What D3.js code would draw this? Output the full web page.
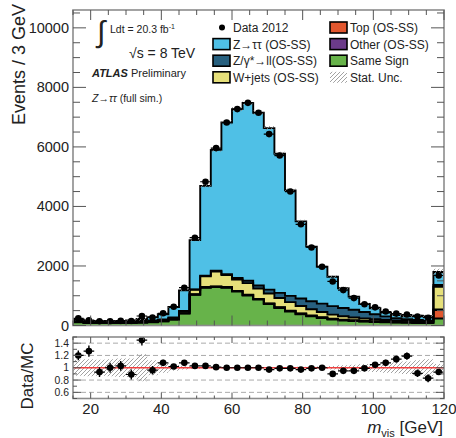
<!DOCTYPE html>
<html>
<head>
<meta charset="utf-8">
<script src="https://cdn.jsdelivr.net/npm/d3@7"></script>
<style>
  body { margin: 0; background: #fff; }
  svg text { font-family: "Liberation Sans", Arial, Helvetica, sans-serif; fill: #222; }
</style>
</head>
<body>
<svg id="chart" width="456" height="438"></svg>
<script>
// ---- m_vis histogram, 3 GeV bins from 15 GeV; the last bin also holds the overflow ----
const binLow = d3.range(15, 120, 3);
const binWidth = 3;

// background and signal components (events per bin)
const sameSign = [110, 80, 85, 80, 80, 85, 95, 110, 140, 200, 400, 1030, 1270, 1290, 1270, 1140, 1010, 870, 720, 590, 470, 380, 310, 250, 200, 170, 150, 130, 120, 105, 95, 90, 85, 80, 235];
const topQuark = [5, 5, 5, 5, 5, 5, 5, 5, 5, 5, 10, 10, 15, 15, 15, 15, 15, 15, 15, 15, 15, 15, 15, 15, 15, 15, 15, 15, 15, 15, 15, 15, 15, 15, 285];
const otherBkg = [5, 5, 5, 5, 5, 5, 5, 5, 5, 5, 5, 10, 10, 10, 10, 10, 10, 10, 10, 10, 10, 10, 10, 10, 10, 10, 10, 10, 10, 10, 10, 10, 10, 10, 20];
const wJets    = [35, 25, 25, 25, 25, 30, 30, 35, 40, 45, 60, 150, 360, 500, 400, 380, 390, 350, 330, 310, 290, 250, 210, 180, 140, 115, 95, 80, 65, 55, 45, 40, 35, 30, 760];
const zll      = [15, 10, 10, 10, 10, 10, 15, 15, 15, 15, 15, 15, 20, 25, 30, 50, 80, 100, 130, 170, 210, 250, 270, 280, 285, 280, 260, 220, 170, 120, 80, 55, 40, 30, 60];
const ztautau  = [30, 15, 20, 20, 25, 35, 70, 110, 175, 350, 690, 1655, 3015, 4060, 5095, 5675, 5975, 5805, 5425, 4675, 3545, 2595, 1835, 1240, 990, 660, 440, 265, 200, 130, 105, 100, 145, 150, 440];

// data 2012
const dataCounts = [240, 178, 140, 145, 155, 152, 320, 270, 410, 632, 1270, 2950, 4830, 5960, 6820, 7270, 7480, 7150, 6430, 5710, 4500, 3400, 2620, 1975, 1480, 1190, 920, 715, 610, 470, 400, 370, 300, 262, 1680];

// Data/MC ratio and its uncertainty
const ratioVals = [1.20, 1.27, 0.93, 1.00, 1.03, 0.89, 1.45, 0.96, 1.08, 1.02, 1.08, 1.03, 1.03, 1.01, 1.00, 1.00, 1.00, 1.00, 0.97, 0.99, 0.99, 0.97, 0.99, 1.00, 0.90, 0.95, 0.95, 0.99, 1.05, 1.08, 1.14, 1.19, 0.91, 0.83, 0.93];
const ratioErr  = [0.08, 0.09, 0.08, 0.08, 0.08, 0.08, 0.09, 0.07, 0.05, 0.04, 0.03, 0.02, 0.015, 0.013, 0.012, 0.012, 0.012, 0.012, 0.013, 0.014, 0.015, 0.018, 0.02, 0.023, 0.026, 0.03, 0.034, 0.04, 0.045, 0.05, 0.055, 0.06, 0.06, 0.065, 0.025];

// relative MC statistical uncertainty
const statUnc = [0.13, 0.14, 0.13, 0.14, 0.15, 0.15, 0.22, 0.12, 0.08, 0.05, 0.03, 0.015, 0.012, 0.011, 0.01, 0.01, 0.01, 0.01, 0.011, 0.012, 0.013, 0.015, 0.017, 0.02, 0.03, 0.04, 0.05, 0.06, 0.07, 0.08, 0.09, 0.1, 0.12, 0.14, 0.06];

const yTicks = [0, 2000, 4000, 6000, 8000, 10000];
const xTicks = [20, 40, 60, 80, 100, 120];
const ratioTicks = [0.6, 0.8, 1, 1.2, 1.4];

const keys = ["sameSign", "topQuark", "otherBkg", "wJets", "zll", "ztautau"];
const colors = {
  ztautau: "#4fc0e6", zll: "#27607f", wJets: "#e6e07a",
  topQuark: "#e2572f", otherBkg: "#6b3b8a", sameSign: "#67b34a"
};
const legendCol1 = [
  { key: "data", label: "Data 2012" },
  { key: "ztautau", label: "Z\u2192\u03c4\u03c4 (OS-SS)" },
  { key: "zll", label: "Z/\u03b3*\u2192ll(OS-SS)" },
  { key: "wJets", label: "W+jets (OS-SS)" }
];
const legendCol2 = [
  { key: "topQuark", label: "Top (OS-SS)" },
  { key: "otherBkg", label: "Other (OS-SS)" },
  { key: "sameSign", label: "Same Sign" },
  { key: "stat", label: "Stat. Unc." }
];

const rows = binLow.map((lo, i) => ({
  lo, hi: lo + binWidth,
  sameSign: sameSign[i], topQuark: topQuark[i], otherBkg: otherBkg[i],
  wJets: wJets[i], zll: zll[i], ztautau: ztautau[i]
}));
const totals = rows.map(r => keys.reduce((s, k) => s + r[k], 0));

// ---- geometry ----
const L = 73, R = 444;
const mainTop = 10, mainBot = 325.5;
const ratTop = 337, ratBot = 398.5;

const x = d3.scaleLinear().domain([15, 120]).range([L, R]);
const y = d3.scaleLinear().domain([0, 10600]).range([mainBot, mainTop]);
const yr = d3.scaleLinear().domain([0.5, 1.5]).range([ratBot, ratTop]);

const svg = d3.select("#chart");
const defs = svg.append("defs");
defs.append("pattern").attr("id", "hatch").attr("patternUnits", "userSpaceOnUse")
  .attr("width", 4).attr("height", 4)
  .append("path").attr("d", "M-1,1 l2,-2 M0,4 l4,-4 M3,5 l2,-2")
  .attr("stroke", "#8a8a8a").attr("stroke-width", 0.8);
defs.append("clipPath").attr("id", "clipMain").append("rect")
  .attr("x", L).attr("y", mainTop).attr("width", R - L).attr("height", mainBot - mainTop);
defs.append("clipPath").attr("id", "clipRatio").append("rect")
  .attr("x", L).attr("y", ratTop).attr("width", R - L).attr("height", ratBot - ratTop);

// step points: two per bin, so each bin is drawn flat
function stepPoints(vals0, vals1) {
  const pts = [];
  binLow.forEach((lo, i) => {
    pts.push({ x: lo, y0: vals0[i], y1: vals1[i] });
    pts.push({ x: lo + binWidth, y0: vals0[i], y1: vals1[i] });
  });
  return pts;
}

// ---- stacked histogram ----
const stacked = d3.stack().keys(keys)(rows);
const gMain = svg.append("g").attr("clip-path", "url(#clipMain)");
const area = d3.area().x(d => x(d.x)).y0(d => y(d.y0)).y1(d => y(d.y1));

stacked.forEach(layer => {
  const pts = stepPoints(layer.map(d => d[0]), layer.map(d => d[1]));
  gMain.append("path").attr("d", area(pts)).attr("fill", colors[layer.key]).attr("stroke", "none");
});
// outline of each component's top edge
const topLine = d3.line().x(d => x(d.x)).y(d => y(d.y1));
stacked.forEach(layer => {
  const pts = stepPoints(layer.map(d => d[0]), layer.map(d => d[1]));
  const closed = [{ x: 15, y1: 0 }, ...pts, { x: 120, y1: 0 }];
  gMain.append("path").attr("d", topLine(closed)).attr("fill", "none")
    .attr("stroke", "#000").attr("stroke-width", 1.9).attr("stroke-linejoin", "miter");
});

// MC statistical band on the total
const bandPts = stepPoints(totals.map((t, i) => t * (1 - statUnc[i])), totals.map((t, i) => t * (1 + statUnc[i])));
gMain.append("path").attr("d", area(bandPts)).attr("fill", "url(#hatch)");

// data points
const gData = gMain.append("g");
binLow.forEach((lo, i) => {
  const cx = x(lo + binWidth / 2), cy = y(dataCounts[i]);
  gData.append("line").attr("x1", x(lo)).attr("x2", x(lo + binWidth)).attr("y1", cy).attr("y2", cy)
    .attr("stroke", "#000").attr("stroke-width", 1.2);
  gData.append("circle").attr("cx", cx).attr("cy", cy).attr("r", 3.3).attr("fill", "#000");
});

// ---- ratio panel ----
const gRat = svg.append("g").attr("clip-path", "url(#clipRatio)");
ratioTicks.filter(v => v !== 1).forEach(v => {
  gRat.append("line").attr("x1", L).attr("x2", R).attr("y1", yr(v)).attr("y2", yr(v))
    .attr("stroke", "#aaa").attr("stroke-width", 1).attr("stroke-dasharray", "5,3");
});
const rArea = d3.area().x(d => x(d.x)).y0(d => yr(d.y0)).y1(d => yr(d.y1));
const rBand = stepPoints(statUnc.map(u => 1 - u), statUnc.map(u => 1 + u));
gRat.append("path").attr("d", rArea(rBand)).attr("fill", "url(#hatch)");
gRat.append("line").attr("x1", L).attr("x2", R).attr("y1", yr(1)).attr("y2", yr(1))
  .attr("stroke", "#f04040").attr("stroke-width", 1.5);
binLow.forEach((lo, i) => {
  const cx = x(lo + binWidth / 2), cy = yr(ratioVals[i]);
  gRat.append("line").attr("x1", cx).attr("x2", cx)
    .attr("y1", yr(ratioVals[i] - ratioErr[i])).attr("y2", yr(ratioVals[i] + ratioErr[i]))
    .attr("stroke", "#000").attr("stroke-width", 1.4);
  gRat.append("line").attr("x1", x(lo)).attr("x2", x(lo + binWidth)).attr("y1", cy).attr("y2", cy)
    .attr("stroke", "#000").attr("stroke-width", 1.2);
  gRat.append("circle").attr("cx", cx).attr("cy", cy).attr("r", 3.3).attr("fill", "#000");
});

// ---- frames and ticks (drawn inward on all four sides) ----
const frameColor = "#8c8c8c", tickColor = "#555";
function frame(top, bot) {
  svg.append("rect").attr("x", L).attr("y", top).attr("width", R - L).attr("height", bot - top)
    .attr("fill", "none").attr("stroke", frameColor).attr("stroke-width", 1.6);
}
function tick(x1, y1, x2, y2) {
  svg.append("line").attr("x1", x1).attr("y1", y1).attr("x2", x2).attr("y2", y2)
    .attr("stroke", tickColor).attr("stroke-width", 1);
}
frame(mainTop, mainBot);
frame(ratTop, ratBot);

// x ticks every 5 GeV, long ones every 20 GeV
d3.range(15, 121, 5).forEach(v => {
  const major = v % 20 === 0;
  const px = x(v);
  tick(px, mainBot, px, mainBot - (major ? 10 : 5));
  tick(px, mainTop, px, mainTop + (major ? 10 : 5));
  tick(px, ratBot, px, ratBot - (major ? 6 : 3));
  tick(px, ratTop, px, ratTop + (major ? 6 : 3));
});
// main y ticks: labelled every 2000, minor every 500
d3.range(0, 10600, 500).forEach(v => {
  const major = v % 2000 === 0;
  const py = y(v);
  tick(L, py, L + (major ? 13 : 7), py);
  tick(R, py, R - (major ? 13 : 7), py);
});
// ratio y ticks
d3.range(0.5, 1.51, 0.1).forEach(v => {
  const major = Math.abs(Math.round(v * 10) % 2) === 0;
  const py = yr(v);
  tick(L, py, L + (major ? 8 : 4), py);
  tick(R, py, R - (major ? 8 : 4), py);
});

// ---- tick labels ----
yTicks.forEach(v => {
  svg.append("text").attr("x", 69).attr("y", y(v) + 5).attr("text-anchor", "end")
    .attr("font-size", 14.5).text(v);
});
ratioTicks.forEach(v => {
  svg.append("text").attr("x", 69).attr("y", yr(v) + 3.7).attr("text-anchor", "end")
    .attr("font-size", 10.4).text(v === 1 ? "1" : d3.format(".1f")(v));
});
xTicks.forEach(v => {
  svg.append("text").attr("x", x(v)).attr("y", 414).attr("text-anchor", "middle")
    .attr("font-size", 15).text(v);
});

// ---- axis titles ----
svg.append("text").attr("transform", "translate(25,4) rotate(-90)").attr("text-anchor", "end")
  .attr("font-size", 18).text("Events / 3 GeV");
svg.append("text").attr("transform", "translate(33,376) rotate(-90)").attr("text-anchor", "middle")
  .attr("font-size", 17).text("Data/MC");
const xt = svg.append("text").attr("x", 443).attr("y", 433).attr("text-anchor", "end").attr("font-size", 17);
xt.append("tspan").attr("font-style", "italic").text("m");
xt.append("tspan").attr("font-size", 11).attr("dy", 4).text("vis");
xt.append("tspan").attr("dy", -4).text(" [GeV]");

// ---- annotations ----
svg.append("text").attr("x", 97).attr("y", 42).attr("font-size", 30).attr("font-weight", 300).text("\u222b");
const lumi = svg.append("text").attr("x", 110).attr("y", 33).attr("font-size", 10.5);
lumi.append("tspan").text("Ldt = 20.3 fb");
lumi.append("tspan").attr("font-size", 7).attr("dy", -4).text("-1");
svg.append("text").attr("x", 129).attr("y", 58).attr("font-size", 14).text("\u221as = 8 TeV");
const atlas = svg.append("text").attr("x", 92).attr("y", 77).attr("font-size", 11);
atlas.append("tspan").attr("font-weight", "bold").attr("font-style", "italic").text("ATLAS");
atlas.append("tspan").text(" Preliminary");
const proc = svg.append("text").attr("x", 92).attr("y", 102).attr("font-size", 10.5);
proc.append("tspan").attr("font-style", "italic").text("Z");
proc.append("tspan").text("\u2192");
proc.append("tspan").attr("font-style", "italic").text("\u03c4\u03c4");
proc.append("tspan").text(" (full sim.)");

// ---- legend ----
function legendColumn(items, boxX, textX) {
  items.forEach((it, i) => {
    const cy = 27.5 + i * 16.6;
    if (it.key === "data") {
      svg.append("circle").attr("cx", boxX + 9).attr("cy", cy).attr("r", 3).attr("fill", "#000");
    } else if (it.key === "stat") {
      svg.append("rect").attr("x", boxX).attr("y", cy - 5.5).attr("width", 17).attr("height", 11)
        .attr("fill", "url(#hatch)");
    } else {
      svg.append("rect").attr("x", boxX).attr("y", cy - 5.5).attr("width", 17).attr("height", 11)
        .attr("fill", colors[it.key]).attr("stroke", "#000").attr("stroke-width", 1.6);
    }
    svg.append("text").attr("x", textX).attr("y", cy + 4.5).attr("font-size", 12).text(it.label);
  });
}
legendColumn(legendCol1, 213, 233);
legendColumn(legendCol2, 330, 350);
</script>
</body>
</html>
